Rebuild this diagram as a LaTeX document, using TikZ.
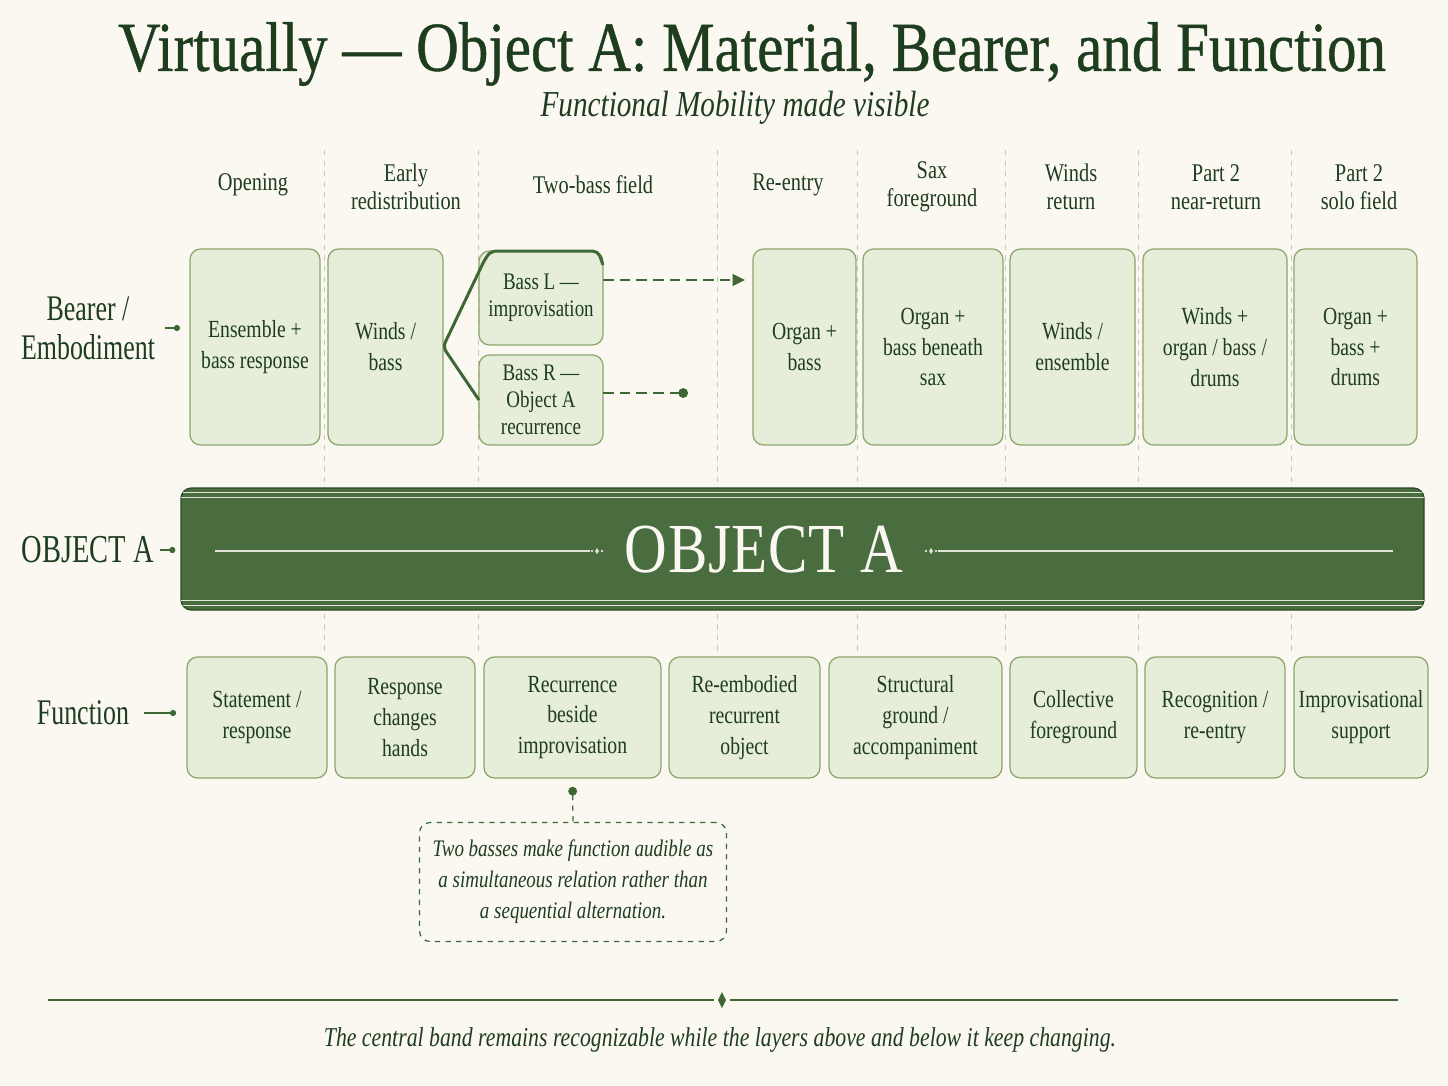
\documentclass[tikz,border=0pt]{standalone}
\usepackage{fontspec}
\setmainfont{Liberation Serif}[FakeStretch=0.8]
\newfontfamily\titlefont{Liberation Serif}[FakeStretch=0.84,FakeBold=0.6]
\newfontfamily\narrowfont{Liberation Serif}[FakeStretch=0.72]
\newfontfamily\bandfont{Liberation Serif}[FakeStretch=0.84,LetterSpace=1]
\usetikzlibrary{calc,arrows.meta,shapes.geometric}
\definecolor{paper}{HTML}{FAF8F1}
\definecolor{ink}{HTML}{1E3D1F}
\definecolor{leaf}{HTML}{3D6834}
\definecolor{boxfill}{HTML}{E6EDD9}
\definecolor{boxline}{HTML}{8AA66D}
\definecolor{bandfill}{HTML}{4A6D40}
\definecolor{sepgray}{HTML}{CBC7B8}
\tikzset{
	stagebox/.style={draw=boxline, fill=boxfill, line width=0.7pt, rounded corners=6pt, inner sep=0pt, outer sep=0pt, align=center, text=ink, font=\fontsize{14}{17.6}\selectfont},
	stagehead/.style={align=center, text=ink, font=\fontsize{14.5}{16}\selectfont},
	rowlabel/.style={align=center, text=ink, font=\fontsize{20.5}{22}\narrowfont},
	rowtick/.style={draw=leaf, line width=0.9pt, -{Circle[length=3.5pt]}},
	basslink/.style={draw=leaf, line width=1.4pt, dash pattern=on 6pt off 3.5pt},
	bracket/.style={draw=leaf, line width=1.7pt, rounded corners=3pt},
	sepline/.style={draw=sepgray, line width=0.5pt, dash pattern=on 3pt off 3pt},
	notebox/.style={draw=leaf, fill=paper, dashed, line width=0.7pt, rounded corners=6pt, align=center, text=ink, inner sep=0pt, font=\fontsize{13.5}{17.6}\itshape\selectfont},
	notelink/.style={draw=leaf, line width=0.7pt, dashed, {Circle[length=5pt]}-},
	bandrule/.style={draw=paper!85!bandfill, line width=0.6pt},
}
\def\stagecell[#1](#2)(#3,#4)(#5,#6)#7{\node[stagebox, #1, minimum width={(#5-#3)*0.02cm}, minimum height={(#6-#4)*0.02cm}] (#2) at ({(#3+#5)/2},{(#4+#6)/2}) {#7};}
\def\bandknot(#1,#2){\fill[paper!85!bandfill] (#1-5,#2) circle (1.3) (#1,#2-3) -- (#1+2,#2) -- (#1,#2+3) -- (#1-2,#2) -- cycle (#1+5,#2) circle (1.3);}

\begin{document}
\begin{tikzpicture}[x=0.02cm, y=-0.02cm]
			%%%%% START %%%%%
			
			\fill[paper] (0,0) rectangle (1448,1086);
			\useasboundingbox (0,0) rectangle (1448,1086);
			
			\node[text=ink, font=\fontsize{40}{42}\titlefont] (title) at (752,54) {Virtually — Object A: Material, Bearer, and Function};
			\node[text=ink, font=\fontsize{20.8}{22}\itshape\selectfont] (subtitle) at (735,108) {Functional Mobility made visible};
			
			\draw[sepline] (324,150) -- (324,652);
			\draw[sepline] (478,150) -- (478,652);
			\draw[sepline] (717,150) -- (717,652);
			\draw[sepline] (857,150) -- (857,652);
			\draw[sepline] (1005,150) -- (1005,652);
			\draw[sepline] (1138,150) -- (1138,652);
			\draw[sepline] (1291,150) -- (1291,652);
			
			\node[stagehead] (hopen) at (253,185) {Opening};
			\node[stagehead] (hearly) at (406,187) {Early\\redistribution};
			\node[stagehead] (htwo) at (593,185) {Two-bass field};
			\node[stagehead] (hreentry) at (788,185) {Re-entry};
			\node[stagehead] (hsax) at (932,187) {Sax\\foreground};
			\node[stagehead] (hwinds) at (1071,187) {Winds\\return};
			\node[stagehead] (hnear) at (1216,187) {Part 2\\near-return};
			\node[stagehead] (hsolo) at (1359,187) {Part 2\\solo field};
			
			\node[rowlabel] (bearerlabel) at (88,328) {Bearer /\\Embodiment};
			\node[rowlabel, font=\fontsize{22.5}{24}\narrowfont] (objlabel) at (88,550) {OBJECT A};
			\node[rowlabel] (funclabel) at (83,713) {Function};
			
			\stagecell[](ensemble)(190,249)(320,445){Ensemble +\\bass response}
			\stagecell[](winds)(328,249)(443,445){Winds /\\bass}
			\stagecell[font=\fontsize{13.5}{15.4}\selectfont](bassL)(479,251)(603,345){Bass L —\\improvisation}
			\stagecell[font=\fontsize{13.5}{15.4}\selectfont](bassR)(479,355)(603,445){Bass R —\\Object A\\recurrence}
			\stagecell[](organ)(753,249)(856,445){Organ +\\bass}
			\stagecell[](beneath)(863,249)(1003,445){Organ +\\bass beneath\\sax}
			\stagecell[](windsens)(1010,249)(1135,445){Winds /\\ensemble}
			\stagecell[](nearret)(1143,249)(1287,445){Winds +\\organ / bass /\\drums}
			\stagecell[](solo)(1294,249)(1417,445){Organ +\\bass +\\drums}
			
			\draw[bracket] (bassR.west) -- (winds.east) -- ($(bassL.north west)+(6,8)$) -- ($(bassL.north west)+(12,0)$) -- ($(bassL.north east)+(-5,0)$) -- ($(bassL.north east)+(0,14)$);
			\coordinate (bassLmark) at (745,280);
			\coordinate (bassRmark) at (688,393);
			\draw[basslink, -{Triangle[length=7pt,width=6.5pt]}] ($(bassL.east)+(0,-18)$) -- (bassLmark);
			\draw[basslink, -{Circle[length=5.5pt]}] ($(bassR.east)+(0,-7)$) -- (bassRmark);
			
			\node[draw=leaf!70!black, fill=bandfill, line width=0.8pt, rounded corners=6pt, inner sep=0pt, minimum width={1243*0.02cm}, minimum height={122*0.02cm}] (band) at (802.5,549) {};
			\draw[bandrule] ($(band.north west)+(3,5)$) -- ($(band.north east)+(-3,5)$);
			\draw[bandrule] ($(band.north west)+(1,10)$) -- ($(band.north east)+(-1,10)$);
			\draw[bandrule] ($(band.south west)+(3,-5)$) -- ($(band.south east)+(-3,-5)$);
			\draw[bandrule] ($(band.south west)+(1,-10)$) -- ($(band.south east)+(-1,-10)$);
			\node[text=paper, font=\fontsize{40}{44}\bandfont] (bandlabel) at (764,550) {OBJECT A};
			\draw[bandrule] (215,551) -- (590,551);
			\bandknot(597,551)
			\draw[bandrule] (938,551) -- (1393,551);
			\bandknot(931,551)
			
			\draw[rowtick, shorten <=2.3pt, shorten >=5.7pt] (bearerlabel.east) -- (bearerlabel.east -| ensemble.west);
			\draw[rowtick, shorten >=2.8pt] (objlabel.east) -- (objlabel.east -| band.west);
			
			\stagecell[](statement)(187,657)(327,778){Statement /\\response}
			\stagecell[](changes)(335,657)(475,778){Response\\changes\\hands}
			\stagecell[](recur)(484,657)(661,778){Recurrence\\beside\\improvisation}
			\stagecell[](reembod)(669,657)(820,778){Re-embodied\\recurrent\\object}
			\stagecell[](ground)(829,657)(1002,778){Structural\\ground /\\accompaniment}
			\stagecell[](collect)(1010,657)(1137,778){Collective\\foreground}
			\stagecell[](recog)(1145,657)(1285,778){Recognition /\\re-entry}
			\stagecell[](improv)(1294,657)(1428,778){Improvisational\\support}
			
			\draw[rowtick, shorten <=5pt, shorten >=6.2pt] (funclabel.east) -- (funclabel.east -| statement.west);
			
			\node[notebox, minimum width={307*0.02cm}, minimum height={119*0.02cm}] (note) at (573,882) {Two basses make function audible as\\a simultaneous relation rather than\\a sequential alternation.};
			\draw[notelink, shorten <=5pt] (recur.south) -- (note.north);
			
			\draw[leaf, line width=1.3pt] (48,1000) -- (714,1000);
			\draw[leaf, line width=1.3pt] (730,1000) -- (1398,1000);
			\fill[leaf] (722,992) -- (726,1000) -- (722,1008) -- (718,1000) -- cycle;
			\node[text=ink, font=\fontsize{15.5}{18}\itshape\selectfont] (footer) at (720,1040) {The central band remains recognizable while the layers above and below it keep changing.};
			
			%%%%% END %%%%%
\end{tikzpicture}
\end{document}
